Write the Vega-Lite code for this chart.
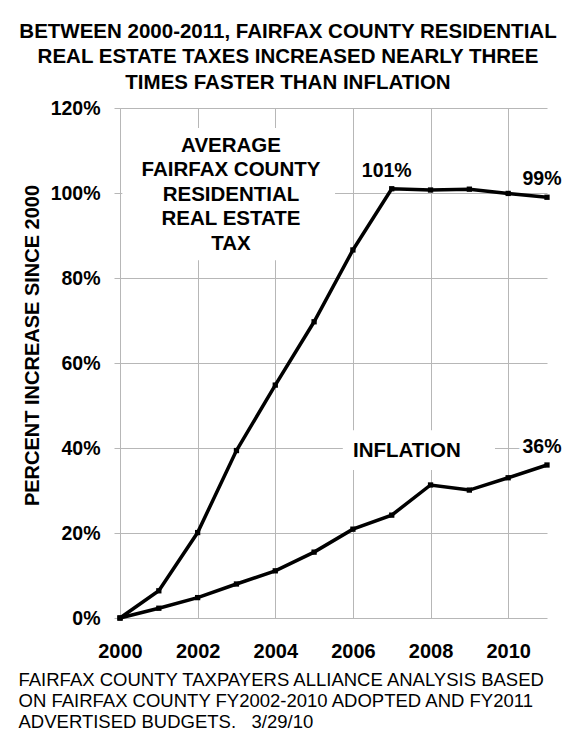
{
  "$schema": "https://vega.github.io/schema/vega-lite/v6.json",
  "width": 427,
  "height": 510,
  "autosize": {"type": "none"},
  "padding": {"left": 120, "top": 108, "right": 23, "bottom": 128},
  "background": "white",
  "config": {
    "view": {"stroke": null},
    "font": "Liberation Sans"
  },
  "title": {
    "text": [
      "BETWEEN 2000-2011, FAIRFAX COUNTY RESIDENTIAL",
      "REAL ESTATE TAXES INCREASED NEARLY THREE",
      "TIMES FASTER THAN INFLATION"
    ],
    "anchor": "middle",
    "frame": "group",
    "dx": -45.5,
    "dy": 3,
    "offset": 8,
    "font": "Liberation Sans",
    "fontSize": 20.5,
    "fontWeight": "bold",
    "lineHeight": 25.5,
    "color": "#000000"
  },
  "data": {
    "values": [
      {"series": "tax", "year": 2000, "pct": 0.0},
      {"series": "tax", "year": 2001, "pct": 0.064},
      {"series": "tax", "year": 2002, "pct": 0.201},
      {"series": "tax", "year": 2003, "pct": 0.394},
      {"series": "tax", "year": 2004, "pct": 0.548},
      {"series": "tax", "year": 2005, "pct": 0.697},
      {"series": "tax", "year": 2006, "pct": 0.866},
      {"series": "tax", "year": 2007, "pct": 1.01},
      {"series": "tax", "year": 2008, "pct": 1.007},
      {"series": "tax", "year": 2009, "pct": 1.009},
      {"series": "tax", "year": 2010, "pct": 0.999},
      {"series": "tax", "year": 2011, "pct": 0.99},
      {"series": "inflation", "year": 2000, "pct": 0.0},
      {"series": "inflation", "year": 2001, "pct": 0.023},
      {"series": "inflation", "year": 2002, "pct": 0.048},
      {"series": "inflation", "year": 2003, "pct": 0.08},
      {"series": "inflation", "year": 2004, "pct": 0.111},
      {"series": "inflation", "year": 2005, "pct": 0.155},
      {"series": "inflation", "year": 2006, "pct": 0.209},
      {"series": "inflation", "year": 2007, "pct": 0.242},
      {"series": "inflation", "year": 2008, "pct": 0.313},
      {"series": "inflation", "year": 2009, "pct": 0.301},
      {"series": "inflation", "year": 2010, "pct": 0.33},
      {"series": "inflation", "year": 2011, "pct": 0.36}
    ]
  },
  "layer": [
    {
      "mark": {"type": "line", "color": "#000000", "strokeWidth": 3.5},
      "encoding": {
        "x": {
          "field": "year",
          "type": "quantitative",
          "scale": {"domain": [2000, 2011], "nice": false, "zero": false},
          "axis": {
            "values": [2000, 2002, 2004, 2006, 2008, 2010],
            "format": "d",
            "grid": true,
            "gridColor": "#b7b7b7",
            "gridWidth": 1,
            "domain": false,
            "ticks": false,
            "labelFlush": false,
            "labelOverlap": false,
            "labelPadding": 23.5,
            "labelFont": "Liberation Sans",
            "labelFontSize": 20,
            "labelFontWeight": "bold",
            "labelColor": "#000000",
            "title": [
              "FAIRFAX COUNTY TAXPAYERS ALLIANCE ANALYSIS BASED",
              "ON FAIRFAX COUNTY FY2002-2010 ADOPTED AND FY2011",
              "ADVERTISED BUDGETS.\u00a0\u00a0 3/29/10"
            ],
            "titleFont": "Liberation Sans",
            "titleFontSize": 18.5,
            "titleFontWeight": "normal",
            "titleColor": "#000000",
            "titleAnchor": "start",
            "titleAlign": "left",
            "titleBaseline": "top",
            "titleLineHeight": 21,
            "titleX": -102,
            "titleY": 52.5
          }
        },
        "y": {
          "field": "pct",
          "type": "quantitative",
          "scale": {"domain": [0, 1.2], "nice": false},
          "axis": {
            "values": [0, 0.2, 0.4, 0.6, 0.8, 1.0, 1.2],
            "format": ".0%",
            "grid": true,
            "gridColor": "#b7b7b7",
            "gridWidth": 1,
            "domainColor": "#b7b7b7",
            "tickColor": "#b7b7b7",
            "tickSize": 6,
            "labelFlush": false,
            "labelPadding": 14,
            "labelFont": "Liberation Sans",
            "labelFontSize": 19.5,
            "labelFontWeight": "bold",
            "labelColor": "#000000",
            "title": "PERCENT INCREASE SINCE 2000",
            "titleFont": "Liberation Sans",
            "titleFontSize": 20,
            "titleFontWeight": "bold",
            "titleColor": "#000000",
            "titleAngle": -90,
            "titleAlign": "center",
            "titleBaseline": "alphabetic",
            "titleX": -82,
            "titleY": 237
          }
        },
        "detail": {"field": "series"}
      }
    },
    {
      "mark": {"type": "point", "shape": "square", "filled": true, "size": 28, "color": "#000000", "opacity": 1},
      "encoding": {
        "x": {"field": "year", "type": "quantitative"},
        "y": {"field": "pct", "type": "quantitative"}
      }
    },
    {
      "data": {"values": [{}]},
      "mark": {"type": "rect", "fill": "#ffffff", "stroke": null},
      "encoding": {
        "x": {"datum": 2000.06, "type": "quantitative"},
        "x2": {"datum": 2005.54},
        "y": {"datum": 1.153, "type": "quantitative"},
        "y2": {"datum": 0.842}
      }
    },
    {
      "data": {"values": [{}]},
      "mark": {"type": "rect", "fill": "#ffffff", "stroke": null},
      "encoding": {
        "x": {"datum": 2005.74, "type": "quantitative"},
        "x2": {"datum": 2009.66},
        "y": {"datum": 0.442, "type": "quantitative"},
        "y2": {"datum": 0.348}
      }
    },
    {
      "data": {"values": [{}]},
      "mark": {
        "type": "text",
        "align": "center",
        "baseline": "top",
        "lineBreak": "\n",
        "lineHeight": 24.6,
        "font": "Liberation Sans",
        "fontSize": 20.5,
        "fontWeight": "bold",
        "color": "#000000"
      },
      "encoding": {
        "x": {"datum": 2002.86, "type": "quantitative"},
        "y": {"datum": 1.135, "type": "quantitative"},
        "text": {"value": "AVERAGE\nFAIRFAX COUNTY\nRESIDENTIAL\nREAL ESTATE\nTAX"}
      }
    },
    {
      "data": {"values": [{}]},
      "mark": {
        "type": "text",
        "align": "center",
        "baseline": "middle",
        "font": "Liberation Sans",
        "fontSize": 20.5,
        "fontWeight": "bold",
        "color": "#000000"
      },
      "encoding": {
        "x": {"datum": 2007.39, "type": "quantitative"},
        "y": {"datum": 0.393, "type": "quantitative"},
        "text": {"value": "INFLATION"}
      }
    },
    {
      "transform": [
        {"filter": "(datum.series === 'tax' && datum.year === 2007) || datum.year === 2011"}
      ],
      "mark": {
        "type": "text",
        "align": "center",
        "baseline": "alphabetic",
        "dx": -5,
        "dy": -12,
        "font": "Liberation Sans",
        "fontSize": 19.5,
        "fontWeight": "bold",
        "fill": "#ffffff",
        "stroke": "#ffffff",
        "strokeWidth": 7
      },
      "encoding": {
        "x": {"field": "year", "type": "quantitative"},
        "y": {"field": "pct", "type": "quantitative"},
        "text": {"field": "pct", "type": "quantitative", "format": ".0%"}
      }
    },
    {
      "transform": [
        {"filter": "(datum.series === 'tax' && datum.year === 2007) || datum.year === 2011"}
      ],
      "mark": {
        "type": "text",
        "align": "center",
        "baseline": "alphabetic",
        "dx": -5,
        "dy": -12,
        "font": "Liberation Sans",
        "fontSize": 19.5,
        "fontWeight": "bold",
        "color": "#000000"
      },
      "encoding": {
        "x": {"field": "year", "type": "quantitative"},
        "y": {"field": "pct", "type": "quantitative"},
        "text": {"field": "pct", "type": "quantitative", "format": ".0%"}
      }
    }
  ]
}
